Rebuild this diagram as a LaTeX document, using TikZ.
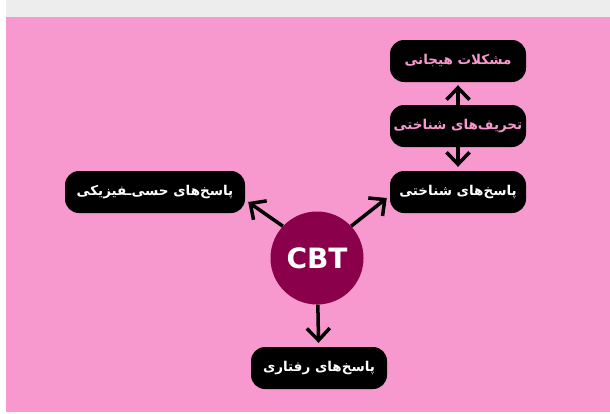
\documentclass[tikz,border=0pt]{standalone}
\usepackage{fontspec}
\setsansfont{DejaVu Sans}
\newfontfamily\farsi[Script=Arabic]{DejaVu Sans}
\TeXXeTstate=1
\usetikzlibrary{arrows.meta,positioning}
\definecolor{fondrose}{HTML}{F799CE}
\definecolor{bandeC}{HTML}{ECEDEC}
\definecolor{cbtC}{HTML}{8B004B}
\tikzset{
  pbox/.style={rectangle, rounded corners=14pt, fill=black, text=#1, minimum width=136pt,
               minimum height=42pt, align=center, font=\farsi\bfseries\fontsize{13.5}{15}\selectfont},
  pbox/.default=white,
  arr/.style={-{Straight Barb[length=12pt,width=23pt,line width=3.5pt]}, line width=3.5pt, draw=black},
}
\begin{document}
\begin{tikzpicture}[x=1pt, y=-1pt]
\useasboundingbox (0,0) rectangle (610,413);
\fill[white] (0,0) rectangle (610,413);
\fill[bandeC] (6,0) rectangle (610,17);
\fill[fondrose] (6,17) rectangle (610,412);
% centre
\node[circle, fill=cbtC, minimum size=93pt, inner sep=0pt, text=white, font=\sffamily\bfseries\fontsize{28}{30}\selectfont] (cbt) at (317,258) {CBT};
% branches
\node[pbox=fondrose] (emo) at (458,61) {\beginR مشکلات هیجانی\endR};
\node[pbox=fondrose] (dist) at (458,126) {\beginR تحریف‌های شناختی\endR};
\node[pbox] (cog) at (458,192) {\beginR پاسخ‌های شناختی\endR};
\node[pbox, minimum width=180pt] (phys) at (155,192) {\beginR پاسخ‌های حسی‌ـفیزیکی\endR};
\node[pbox] (beh) at (319,368) {\beginR پاسخ‌های رفتاری\endR};
\draw[arr, shorten >=3pt] (dist) -- (emo);
\draw[arr, shorten >=4pt] (dist) -- (cog);
\draw[arr] (cbt.137) -- ([xshift=3pt,yshift=-10pt]phys.east);
\draw[arr] (cbt.43) -- ([xshift=-3pt,yshift=-6pt]cog.west);
\draw[arr, shorten >=4pt] (cbt) -- (beh);
\end{tikzpicture}
\end{document}
